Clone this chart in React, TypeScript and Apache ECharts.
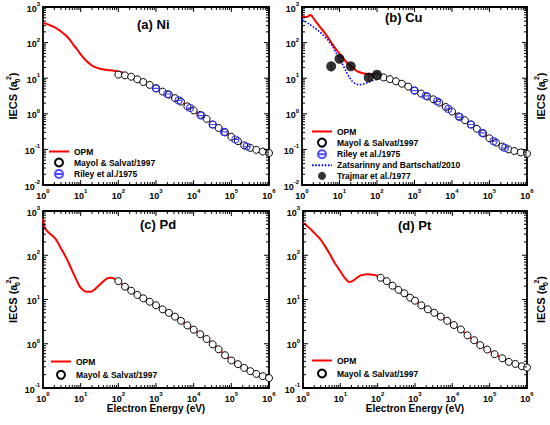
import React, { useEffect, useRef } from 'react';
import * as echarts from 'echarts';

const FONT = '"Liberation Sans", Arial, Helvetica, sans-serif';

// ---------- energies (eV) ----------
const msEnergy = [100, 150, 220, 320, 460, 680, 1000, 1500, 2200, 3200, 4600, 6800, 1e4, 1.5e4, 2.2e4, 3.2e4, 4.6e4, 6.8e4, 1e5, 1.5e5, 2.2e5, 3.2e5, 4.6e5, 6.8e5, 1e6];
const msEnergyPt = [120, 175, 250, 360, 520, 740, 1000, 1480, 2200, 3300, 4900, 7300, 11000, 17000, 25500, 38500, 56000, 86000, 136000, 218000, 326000, 490000, 730000, 1e6];
const rileyEnergy = [1e3, 2e3, 4e3, 8e3, 1.6e4, 3.2e4, 6.4e4, 1.28e5, 2.56e5];

// ---------- (a) Ni ----------
const niOpmE = [1, 1.3, 1.6, 2, 2.5, 3, 4, 5, 6.5, 8, 10, 12, 15, 19, 24, 30, 40, 55, 75, 100, 130, 170, 220, 320, 500, 1000, 2000, 5000, 1e4, 2e4, 5e4, 1e5, 2e5, 5e5, 1e6];
const niOpm = [365, 330, 300, 272, 235, 205, 160, 125, 85, 65, 47, 37, 29, 23.5, 20.5, 19, 17.5, 16.8, 16.3, 15.5, 14.5, 13, 11.2, 9.3, 7.5, 5.2, 3.6, 2.1, 1.25, 0.76, 0.38, 0.225, 0.138, 0.095, 0.079];
const niMayol = [12.6, 12.0, 11.0, 9.3, 7.8, 6.5, 5.2, 4.2, 3.45, 2.75, 2.2, 1.62, 1.25, 0.93, 0.72, 0.5, 0.4, 0.3, 0.225, 0.17, 0.13, 0.11, 0.097, 0.087, 0.079];
const niRiley = [5.2, 3.6, 2.37, 1.45, 0.89, 0.5, 0.31, 0.19, 0.12];

// ---------- (b) Cu ----------
const cuOpmE = [1, 1.2, 1.35, 1.5, 1.65, 1.8, 2, 2.3, 2.9, 4, 5.4, 7, 10, 13, 18, 24, 30, 40, 50, 70, 100, 150, 220, 320, 500, 1000, 2000, 5000, 1e4, 2e4, 5e4, 1e5, 2e5, 5e5, 1e6];
const cuOpm = [540, 525, 525, 560, 600, 575, 490, 400, 290, 190, 120, 80, 49, 34, 24, 19, 15.5, 14, 13.3, 12.8, 12.2, 10.6, 9.4, 8.2, 6.7, 4.5, 3.2, 1.92, 1.16, 0.7, 0.35, 0.205, 0.128, 0.088, 0.076];
const cuMayol = [11.3, 10.5, 9.4, 8.2, 7.0, 5.8, 4.5, 3.7, 3.05, 2.55, 2.05, 1.55, 1.16, 0.85, 0.66, 0.5, 0.38, 0.28, 0.205, 0.155, 0.12, 0.1, 0.09, 0.082, 0.076];
const cuRiley = [4.5, 3.2, 2.24, 1.37, 0.81, 0.5, 0.29, 0.17, 0.11];
const cuZatsE = [1, 1.5, 2, 2.8, 3.6, 5, 6.6, 8, 10, 12, 15, 18, 22, 27, 33, 40, 50, 62, 75, 100, 124, 150];
const cuZats = [440, 340, 275, 210, 165, 115, 77, 52, 36, 25, 15.5, 11, 8.1, 7.0, 6.6, 6.7, 7.2, 7.9, 8.6, 9.3, 9.7, 10];
const cuTrajE = [6, 10, 20, 60, 100];
const cuTraj = [21.5, 35, 21.5, 10.5, 12.6];
const cuTrajLow = [15, 28, 17, 8.5, 10.5];
const cuTrajHigh = [29, 43, 27, 12.5, 15];

// ---------- (c) Pd ----------
const pdOpmE = [1, 1.05, 1.12, 1.25, 1.45, 1.7, 2.1, 2.5, 3.2, 4.2, 5.2, 6.3, 8, 9.5, 12, 14.5, 18, 22, 28, 36, 45, 54, 65, 75, 100, 150, 220, 320, 500, 1000, 2000, 5000, 1e4, 2e4, 5e4, 1e5, 2e5, 5e5, 1e6];
const pdOpm = [680, 520, 420, 360, 320, 285, 240, 190, 130, 85, 58, 40, 26, 19.5, 16, 14.9, 15, 16.2, 19.5, 23.5, 28, 30.5, 31, 30, 26, 19.5, 15.8, 12.7, 10.2, 7.4, 5.3, 3.15, 2.08, 1.36, 0.7, 0.42, 0.3, 0.2, 0.168];
const pdMayol = [26, 19.5, 15.8, 12.7, 10.6, 8.9, 7.4, 6.0, 5.0, 4.1, 3.3, 2.6, 2.08, 1.64, 1.28, 0.97, 0.75, 0.55, 0.42, 0.345, 0.285, 0.24, 0.208, 0.185, 0.168];

// ---------- (d) Pt ----------
const ptOpmE = [1, 1.2, 1.5, 2, 2.8, 3.8, 5.1, 7, 9.4, 12, 14, 17, 20, 23, 28, 35, 43, 52, 65, 79, 100, 120, 175, 250, 360, 520, 740, 1000, 2000, 5000, 1e4, 2e4, 5e4, 1e5, 2e5, 5e5, 1e6];
const ptOpm = [550, 480, 410, 320, 240, 165, 110, 68, 47, 34, 29, 25, 25.5, 27.5, 31, 35, 36.5, 37, 36.8, 36, 34, 31, 26, 20.5, 16.5, 13.8, 11, 9.4, 6.3, 4.1, 2.8, 1.85, 1.0, 0.69, 0.49, 0.35, 0.29];
const ptMayol = [31, 26, 20.5, 16.5, 13.8, 11, 9.4, 7.4, 6.0, 5.0, 4.1, 3.3, 2.65, 2.1, 1.55, 1.2, 0.93, 0.74, 0.58, 0.47, 0.39, 0.35, 0.31, 0.29];

// ---------- labels ----------
const titles = ['(a) Ni', '(b) Cu', '(c) Pd', '(d) Pt'];
const nOPM = 'OPM';
const nMS = 'Mayol & Salvat/1997';
const nRiley = 'Riley et al./1975';
const nZats = 'Zatsarinny and Bartschat/2010';
const nTraj = 'Trajmar et al./1977';
const yName = '{t|IECS (a}{sub|0}{sup|2}{t|)}';
const xName = 'Electron Energy (eV)';

const zip = (xs: number[], ys: number[]) => xs.map((x, i) => [x, ys[i]]);

// tick positions for each panel's frame (axis decoration)
function tickData(yMinExp: number, yMaxExp: number) {
  const d: number[][] = [];
  const yMin = Math.pow(10, yMinExp);
  for (let k = 0; k <= 6; k++) {
    d.push([Math.pow(10, k), yMin, 0]);
    if (k < 6) for (let m = 2; m <= 9; m++) d.push([m * Math.pow(10, k), yMin, 1]);
  }
  for (let k = yMinExp; k <= yMaxExp; k++) {
    d.push([1, Math.pow(10, k), 2]);
    if (k < yMaxExp) for (let m = 2; m <= 9; m++) d.push([1, m * Math.pow(10, k), 3]);
  }
  return d;
}

const tickRender = (params: any, api: any) => {
  const cs = params.coordSys;
  const kind = api.value(2);
  const p = api.coord([api.value(0), api.value(1)]);
  const len = kind === 0 || kind === 2 ? 5 : 3;
  const st = { stroke: '#000', lineWidth: 1 };
  if (kind < 2) {
    const b = cs.y + cs.height;
    return {
      type: 'group',
      children: [
        { type: 'line', shape: { x1: p[0], y1: b, x2: p[0], y2: b - len }, style: st },
        { type: 'line', shape: { x1: p[0], y1: cs.y, x2: p[0], y2: cs.y + len }, style: st },
      ],
    };
  }
  const r = cs.x + cs.width;
  return {
    type: 'group',
    children: [
      { type: 'line', shape: { x1: cs.x, y1: p[1], x2: cs.x + len, y2: p[1] }, style: st },
      { type: 'line', shape: { x1: r, y1: p[1], x2: r - len, y2: p[1] }, style: st },
    ],
  };
};

const errRender = (params: any, api: any) => {
  const x = api.value(0);
  const a = api.coord([x, api.value(1)]);
  const b = api.coord([x, api.value(2)]);
  return { type: 'line', shape: { x1: a[0], y1: a[1], x2: b[0], y2: b[1] }, style: { stroke: '#888', lineWidth: 1 } };
};

const supFmt = (v: number) => `{b|10}{s|${Math.round(Math.log10(v))}}`;
const tickLabel = {
  formatter: supFmt,
  interval: 0,
  margin: 3,
  rich: {
    b: { fontFamily: FONT, fontWeight: 'bold', fontSize: 9, color: '#000', lineHeight: 12, verticalAlign: 'bottom' },
    s: { fontFamily: FONT, fontWeight: 'bold', fontSize: 6, color: '#000', lineHeight: 12, verticalAlign: 'top' },
  },
};
const nameStyle = {
  fontFamily: FONT,
  fontWeight: 'bold',
  fontSize: 10,
  color: '#000',
  rich: {
    t: { fontFamily: FONT, fontWeight: 'bold', fontSize: 11, color: '#000', lineHeight: 16, verticalAlign: 'middle' },
    sub: { fontFamily: FONT, fontWeight: 'bold', fontSize: 7, color: '#000', lineHeight: 16, verticalAlign: 'bottom', width: 1 },
    sup: { fontFamily: FONT, fontWeight: 'bold', fontSize: 7, color: '#000', lineHeight: 16, verticalAlign: 'top' },
  },
};

const grids = [
  { left: 43, top: 7, width: 226, height: 178, yMinExp: -2, yMaxExp: 3 },
  { left: 302, top: 7, width: 228, height: 178, yMinExp: -2, yMaxExp: 3 },
  { left: 43, top: 211, width: 226, height: 177, yMinExp: -1, yMaxExp: 3 },
  { left: 303, top: 211, width: 227, height: 177, yMinExp: -1, yMaxExp: 3 },
];
const titlePos = [
  { left: 137, top: 18 },
  { left: 385, top: 11 },
  { left: 140, top: 218 },
  { left: 398, top: 219 },
];

const RILEY_SYMBOL = 'path://M0,10 A10,10 0 1 1 20,10 A10,10 0 1 1 0,10 Z M0,10 L20,10';

function buildOption() {
  const legendText = { fontFamily: FONT, fontWeight: 'bold', fontSize: 8.5, color: '#000' };
  const lineItem = (name: string) => ({ name, itemStyle: { opacity: 0 } });
  const opmLine = (i: number, e: number[], v: number[]) => ({
    type: 'line', name: nOPM, xAxisIndex: i, yAxisIndex: i, data: zip(e, v),
    showSymbol: false, symbol: 'none', smooth: 0.3, z: 2,
    lineStyle: { color: '#ff0000', width: 2 }, itemStyle: { color: '#ff0000' },
  });
  const msScatter = (i: number, e: number[], v: number[]) => ({
    type: 'scatter', name: nMS, xAxisIndex: i, yAxisIndex: i, data: zip(e, v),
    symbol: 'circle', symbolSize: 7, z: 3,
    itemStyle: { color: '#ffffff', borderColor: '#000', borderWidth: 1, opacity: 1 },
  });
  const rileyScatter = (i: number, v: number[]) => ({
    type: 'scatter', name: nRiley, xAxisIndex: i, yAxisIndex: i, data: zip(rileyEnergy, v),
    symbol: RILEY_SYMBOL, symbolSize: 7, symbolKeepAspect: true, z: 4,
    itemStyle: { color: 'rgba(0,0,0,0)', borderColor: '#2020ff', borderWidth: 1.2 },
  });
  const ticks = (i: number) => ({
    type: 'custom', xAxisIndex: i, yAxisIndex: i, silent: true, z: 10,
    renderItem: tickRender, data: tickData(grids[i].yMinExp, grids[i].yMaxExp),
  });

  const series: any[] = [
    opmLine(0, niOpmE, niOpm), msScatter(0, msEnergy, niMayol), rileyScatter(0, niRiley), ticks(0),
    opmLine(1, cuOpmE, cuOpm),
    {
      type: 'line', name: nZats, xAxisIndex: 1, yAxisIndex: 1, data: zip(cuZatsE, cuZats),
      showSymbol: false, symbol: 'none', smooth: 0.3, z: 2,
      lineStyle: { color: '#0000ff', width: 1.6, type: [1.6, 1.6] }, itemStyle: { color: '#0000ff' },
    },
    msScatter(1, msEnergy, cuMayol), rileyScatter(1, cuRiley),
    {
      type: 'custom', xAxisIndex: 1, yAxisIndex: 1, silent: true, z: 4,
      renderItem: errRender, encode: { x: 0, y: [1, 2] },
      data: cuTrajE.map((e, i) => [e, cuTrajLow[i], cuTrajHigh[i]]),
    },
    {
      type: 'scatter', name: nTraj, xAxisIndex: 1, yAxisIndex: 1, data: zip(cuTrajE, cuTraj),
      symbol: 'circle', symbolSize: 10, z: 5, itemStyle: { color: '#000' },
    },
    ticks(1),
    opmLine(2, pdOpmE, pdOpm), msScatter(2, msEnergy, pdMayol), ticks(2),
    opmLine(3, ptOpmE, ptOpm), msScatter(3, msEnergyPt, ptMayol), ticks(3),
  ];

  const xAxis = grids.map((g, i) => ({
    type: 'log', logBase: 10, gridIndex: i, min: 1, max: 1e6, splitNumber: 6,
    axisLine: { show: false }, axisTick: { show: false }, splitLine: { show: false },
    axisLabel: tickLabel,
    name: i >= 2 ? xName : '', nameLocation: 'middle', nameGap: 13, nameTextStyle: nameStyle,
  }));
  const yAxis: any[] = grids.map((g, i) => ({
    type: 'log', logBase: 10, gridIndex: i, min: Math.pow(10, g.yMinExp), max: Math.pow(10, g.yMaxExp),
    splitNumber: g.yMaxExp - g.yMinExp,
    axisLine: { show: false }, axisTick: { show: false }, splitLine: { show: false },
    axisLabel: tickLabel,
    name: i % 2 === 0 ? yName : '', nameLocation: 'middle', nameGap: 21, nameRotate: 90, nameTextStyle: nameStyle,
  }));
  [1, 3].forEach((gi) => {
    yAxis.push({
      type: 'value', gridIndex: gi, position: 'right', min: 0, max: 1,
      axisLine: { show: false }, axisTick: { show: false }, splitLine: { show: false }, axisLabel: { show: false },
      name: yName, nameLocation: 'middle', nameGap: 6, nameRotate: 90, nameTextStyle: nameStyle,
    });
  });

  return {
    animation: false,
    backgroundColor: '#ffffff',
    textStyle: { fontFamily: FONT },
    title: titles.map((t, i) => ({
      text: t, left: titlePos[i].left, top: titlePos[i].top, padding: 0,
      textStyle: { fontFamily: FONT, fontWeight: 'bold', fontSize: 13, color: '#000' },
    })),
    grid: grids.map((g) => ({
      left: g.left, top: g.top, width: g.width, height: g.height,
      show: true, borderColor: '#000', borderWidth: 1.8, backgroundColor: 'transparent',
    })),
    legend: [
      { data: [lineItem(nOPM), nMS, nRiley], left: 48, top: 147, itemGap: 1.5 },
      { data: [lineItem(nOPM), nMS, nRiley, lineItem(nZats), nTraj], left: 311, top: 127, itemGap: 1.6 },
      { data: [lineItem(nOPM), nMS], left: 50, top: 357, itemGap: 3.8 },
      { data: [lineItem(nOPM), nMS], left: 311, top: 356, itemGap: 3.5 },
    ].map((l) => ({
      orient: 'vertical', itemWidth: 20, itemHeight: 8, padding: 0,
      selectedMode: false, textStyle: legendText, ...l,
    })),
    xAxis,
    yAxis,
    series,
  };
}

export default function App() {
  const ref = useRef<HTMLDivElement>(null);
  useEffect(() => {
    if (!ref.current) return;
    const chart = echarts.init(ref.current, undefined, { renderer: 'svg' });
    chart.setOption(buildOption() as any);
    return () => chart.dispose();
  }, []);
  return (
    <div
      ref={ref}
      style={{ position: 'absolute', left: 0, top: 0, width: 550, height: 425, background: '#fff' }}
    />
  );
}
